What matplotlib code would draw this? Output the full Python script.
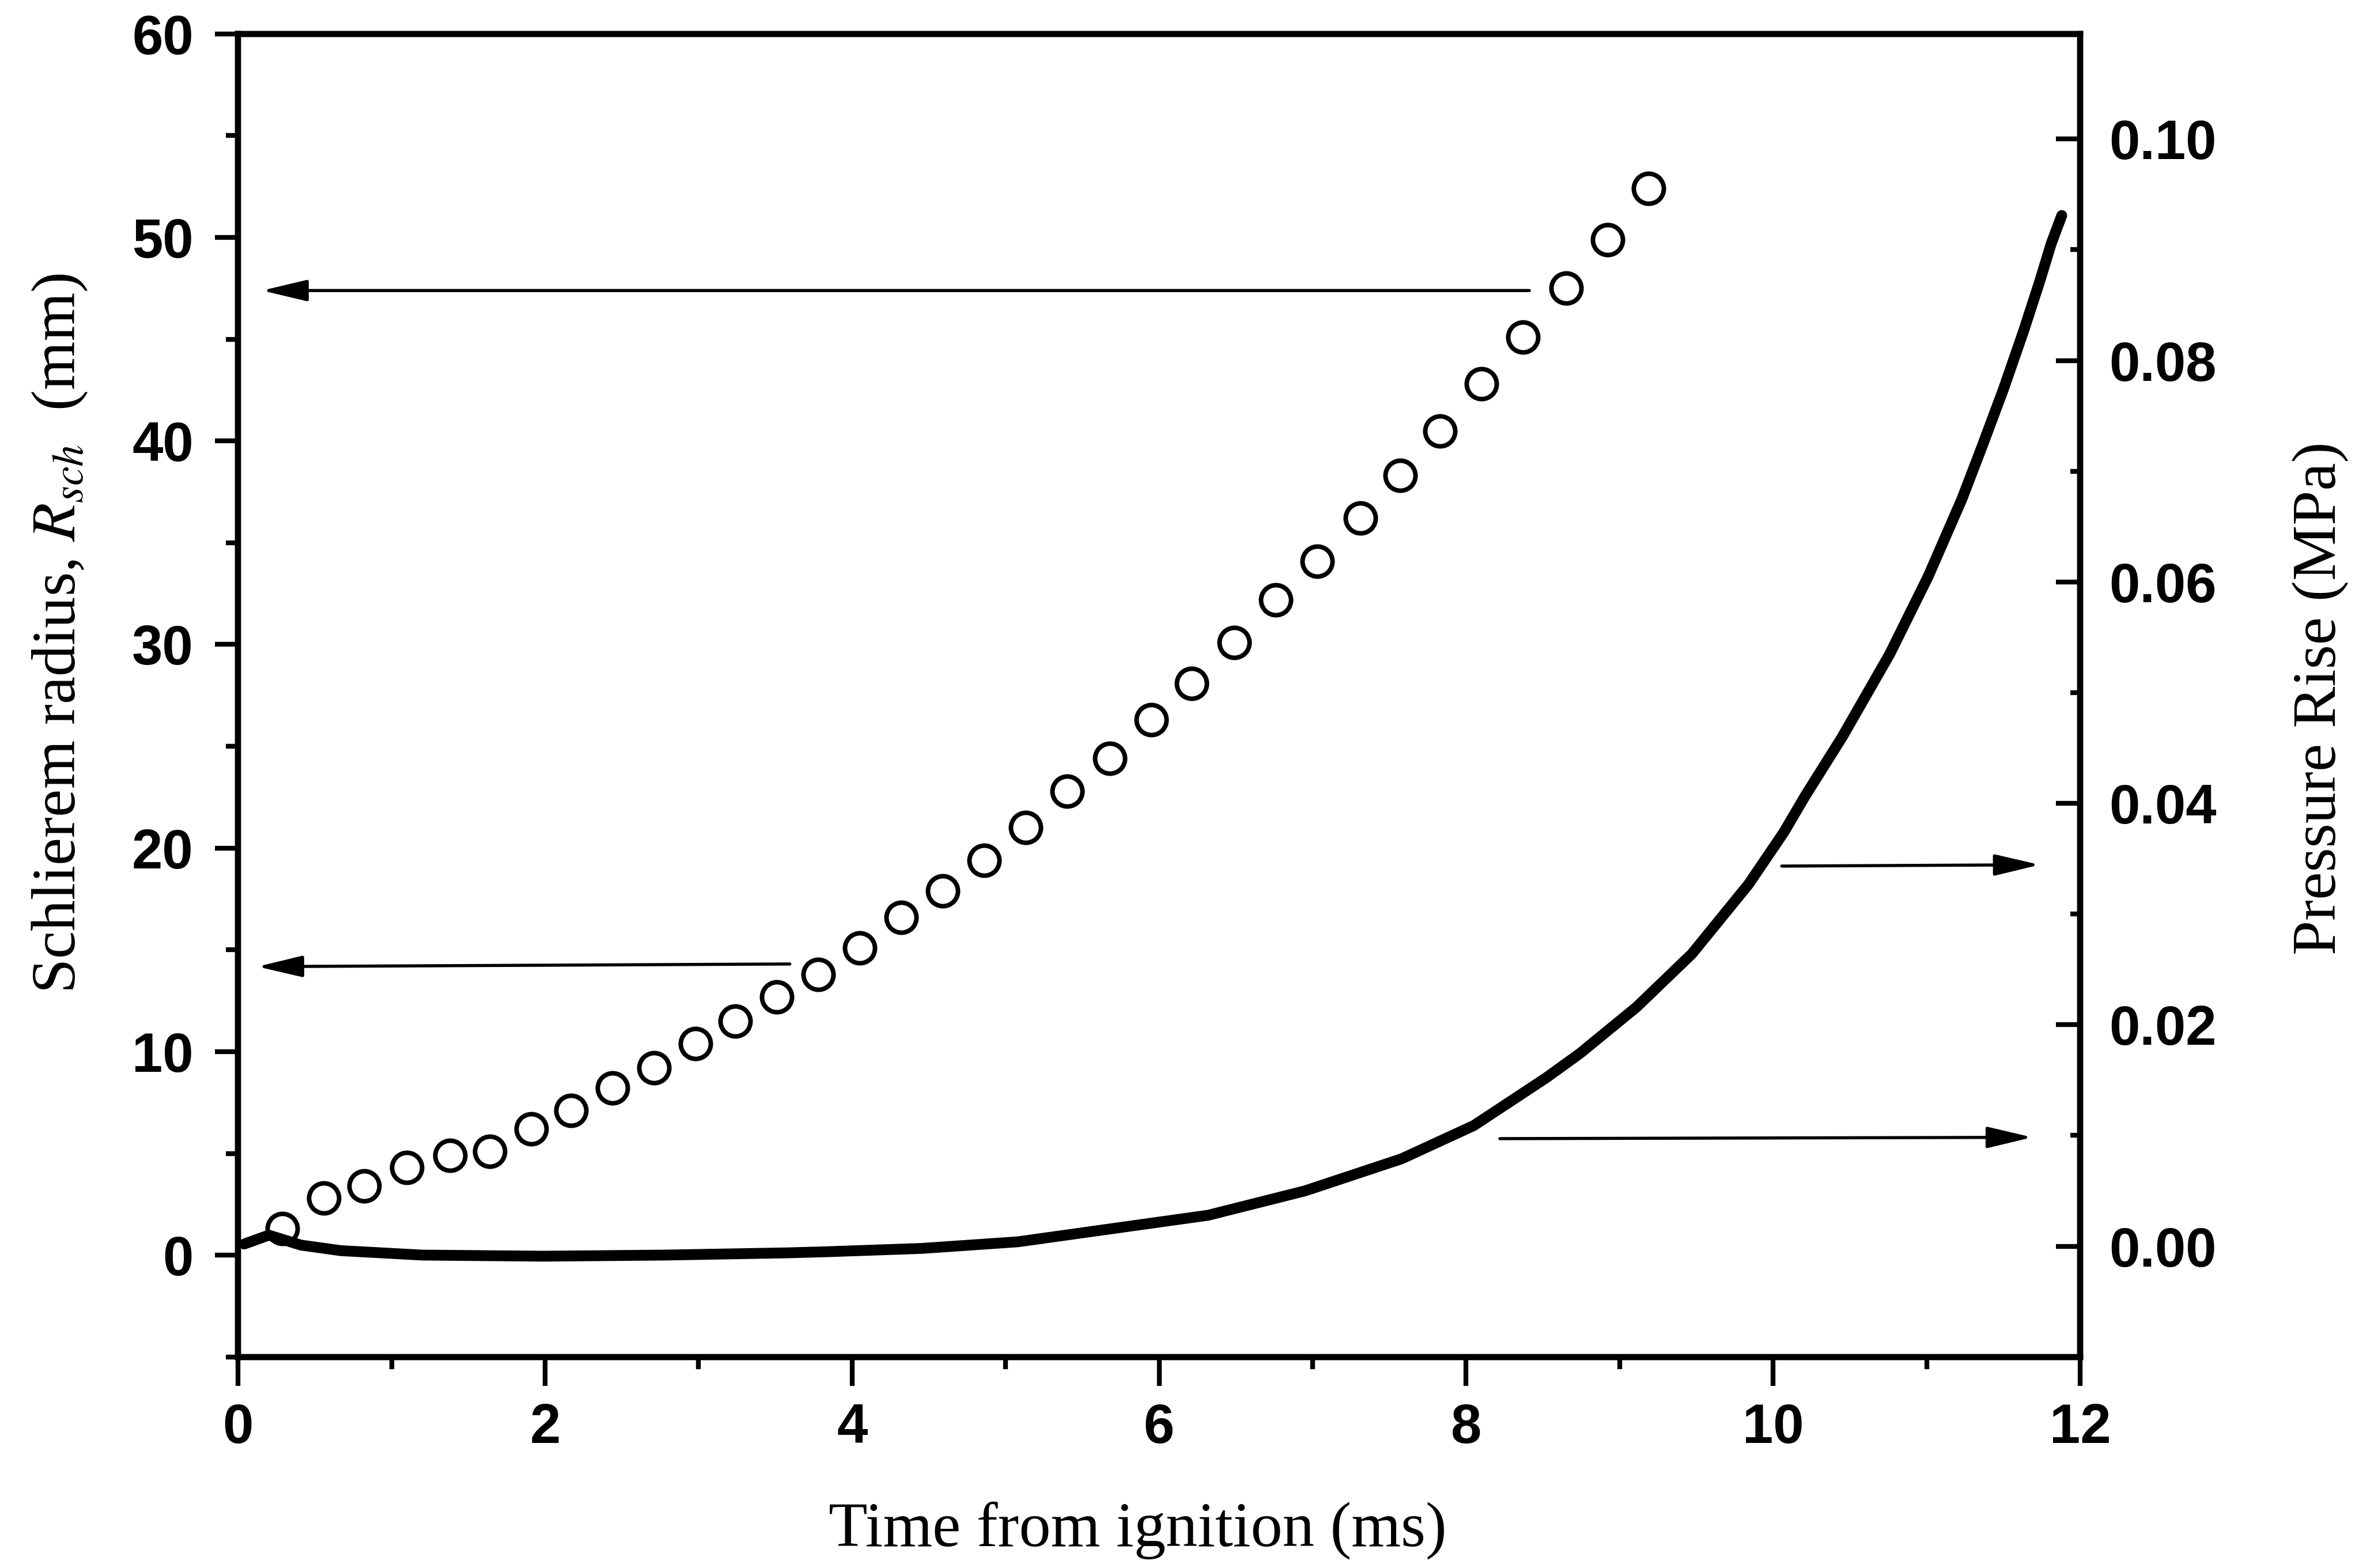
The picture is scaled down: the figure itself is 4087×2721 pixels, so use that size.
import matplotlib
matplotlib.use("Agg")
import matplotlib.pyplot as plt
from matplotlib.ticker import MultipleLocator, FormatStrFormatter

plt.rcParams['font.family'] = 'Liberation Sans'
plt.rcParams['mathtext.fontset'] = 'stix'

# schlieren radius (open circles, left axis)
time_circles = [0.29, 0.56, 0.82, 1.10, 1.38, 1.64, 1.91, 2.17, 2.44, 2.71,
                2.98, 3.24, 3.51, 3.78, 4.05, 4.32, 4.59, 4.86, 5.13, 5.40,
                5.68, 5.95, 6.21, 6.49, 6.76, 7.03, 7.31, 7.57, 7.83, 8.10,
                8.37, 8.65, 8.92, 9.19]
radius = [1.3, 2.8, 3.4, 4.3, 4.9, 5.1, 6.2, 7.1, 8.2, 9.2,
          10.4, 11.5, 12.7, 13.8, 15.1, 16.6, 17.9, 19.4, 21.0, 22.8,
          24.4, 26.3, 28.1, 30.1, 32.2, 34.1, 36.2, 38.3, 40.5, 42.8,
          45.1, 47.5, 49.9, 52.4]

# pressure rise (solid line, right axis)
time_p = [0.04, 0.20, 0.41, 0.67, 1.20, 1.99, 2.78, 3.57, 3.83, 4.45,
          5.08, 5.70, 6.32, 6.95, 7.58, 8.05, 8.52, 8.74, 9.11, 9.47,
          9.84, 10.07, 10.21, 10.45, 10.76, 11.01, 11.23, 11.36,
          11.50, 11.63, 11.74, 11.81, 11.88]
pressure = [0.0002, 0.0010, 0.0001, -0.0004, -0.0008, -0.0009, -0.0008, -0.0006, -0.0005, -0.0002,
            0.0004, 0.0016, 0.0028, 0.0050, 0.0079, 0.0109, 0.0152, 0.0174, 0.0216, 0.0264,
            0.0327, 0.0374, 0.0407, 0.0460, 0.0535, 0.0605, 0.0675, 0.0722,
            0.0774, 0.0826, 0.0873, 0.0905, 0.0931]

fig = plt.figure(figsize=(4087 / 300, 2721 / 300), dpi=300)
ax = fig.add_axes([0.1011, 0.1346, 0.7822, 0.8438])
ax2 = ax.twinx()

ax.plot(time_circles, radius, 'o', mfc='none', mec='k', ms=12.5, mew=1.9)
ax2.plot(time_p, pressure, '-', color='k', lw=4.5, solid_capstyle='round', solid_joinstyle='round')

ax.set_xlim(0, 12)
ax.set_ylim(-5, 60)
ax2.set_ylim(-0.01, 0.1095)

ax.xaxis.set_major_locator(MultipleLocator(2))
ax.xaxis.set_minor_locator(MultipleLocator(1))
ax.yaxis.set_major_locator(MultipleLocator(10))
ax.yaxis.set_minor_locator(MultipleLocator(5))
ax2.yaxis.set_major_locator(MultipleLocator(0.02))
ax2.yaxis.set_minor_locator(MultipleLocator(0.01))
ax2.yaxis.set_major_formatter(FormatStrFormatter('%.2f'))

ax.tick_params(axis='y', which='major', direction='out', length=9.6, width=2, labelsize=23, pad=9)
ax.tick_params(axis='y', which='minor', direction='out', length=5, width=2)
ax.tick_params(axis='x', which='major', direction='out', length=12, width=2, labelsize=23, pad=7)
ax.tick_params(axis='x', which='minor', direction='out', length=5, width=2)
ax.tick_params(which='both', top=False, right=False)
ax2.tick_params(axis='y', which='major', direction='in', length=10, width=2, labelsize=23, pad=12)
ax2.tick_params(axis='y', which='minor', direction='in', length=4, width=2)

plt.setp(ax.get_xticklabels() + ax.get_yticklabels() + ax2.get_yticklabels(), fontweight='bold')

for a in (ax, ax2):
    for s in a.spines.values():
        s.set_linewidth(2.5)

# arrows pointing to the axis each series belongs to
arrows = [((0.701, 0.806), (0.013, 0.806)),
          ((0.2995, 0.297), (0.0105, 0.295)),
          ((0.838, 0.371), (0.978, 0.372)),
          ((0.685, 0.165), (0.974, 0.166))]
for start, tip in arrows:
    ax2.annotate('', xy=tip, xytext=start, xycoords='axes fraction', textcoords='axes fraction',
                 arrowprops=dict(arrowstyle='-|>,head_length=1.6,head_width=0.38', mutation_scale=10,
                                 lw=1.3, color='k', shrinkA=0, shrinkB=0))

fig.text(0.483, 0.024, 'Time from ignition (ms)', ha='center', va='center',
         fontsize=26.5, family='Liberation Serif')
fig.text(0.0255, 0.596, r'Schlierem radius, $R_{sch}$  (mm)', ha='center', va='center', rotation=90,
         fontsize=26, family='Liberation Serif')
fig.text(0.9853, 0.5546, 'Pressure Rise (MPa)', ha='center', va='center', rotation=90,
         fontsize=26, family='Liberation Serif')

fig.savefig('out.png', dpi=300)
